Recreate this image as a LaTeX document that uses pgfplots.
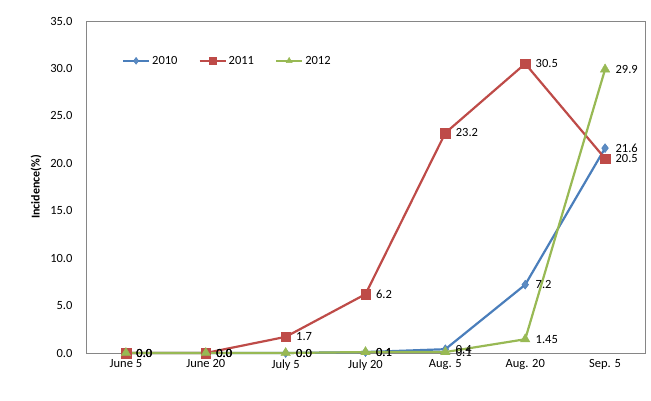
\documentclass[border=0pt]{standalone}
\usepackage{fontspec}
\setmainfont{Carlito}
\usepackage{pgfplots}
\pgfplotsset{compat=1.18}
\usepackage{pgfplotstable}

\definecolor{c2010}{HTML}{4A7EBB}
\definecolor{c2011}{HTML}{BE4B48}
\definecolor{c2012}{HTML}{98B954}
\definecolor{frame}{HTML}{868686}

% x = date index, y = incidence, lab = data label
\pgfplotstableread{
x y lab
0 0.0 0.0
1 0.0 0.0
2 0.0 0.0
3 0.1 0.1
4 0.4 0.4
5 7.2 7.2
6 21.6 21.6
}\tabA
\pgfplotstableread{
x y lab
0 0.0 0.0
1 0.0 0.0
2 1.7 1.7
3 6.2 6.2
4 23.2 23.2
5 30.5 30.5
6 20.5 20.5
}\tabB
\pgfplotstableread{
x y lab
0 0.0 0.0
1 0.0 0.0
2 0.0 0.0
3 0.1 0.1
4 0.1 0.1
5 1.45 1.45
6 29.9 29.9
}\tabC

\begin{document}
\begin{tikzpicture}
\begin{axis}[
    scale only axis,
    width=559pt, height=332pt,
    xmin=-0.5, xmax=6.5,
    ymin=0, ymax=35,
    xtick={0,...,6},
    xticklabels={June 5,June 20,July 5,July 20,Aug. 5,Aug. 20,Sep. 5},
    ytick={0,5,...,35},
    yticklabel style={/pgf/number format/fixed,/pgf/number format/precision=1,
        /pgf/number format/fixed zerofill, xshift=-10pt},
    /pgf/number format/assume math mode=true,
    major tick length=0pt,
    tick label style={font=\fontsize{12.5}{14}\selectfont},
    xticklabel style={yshift=-3pt},
    axis line style={frame},
    ylabel={\bfseries Incidence(\%)},
    ylabel style={font=\fontsize{12}{14}\selectfont, yshift=2pt},
    legend style={draw=none, fill=none, at={(0.064,0.88)}, anchor=west,
        font=\fontsize{12.5}{14}\selectfont, legend columns=3,
        inner sep=0pt,
        /tikz/every even column/.append style={column sep=19pt}},
    legend image code/.code={
        \draw[#1, mark repeat=2, mark phase=2, mark size=3.5pt] plot coordinates {(0pt,0pt) (13pt,0pt) (26pt,0pt)};},
    nodes near coords,
    point meta=explicit symbolic,
    nodes near coords style={font=\fontsize{12.5}{14}\selectfont, anchor=west, xshift=7pt, text=black},
    clip=false,
]
\addplot[c2010, line width=2.2pt, mark=diamond*, mark size=4.5pt,
    mark options={fill=c2010!90!white, line width=0.4pt}]
    table[x=x, y=y, meta=lab] {\tabA};
\addplot[c2011, line width=2.2pt, mark=square*, mark size=4.8pt,
    mark options={fill=c2011, line width=0.4pt}]
    table[x=x, y=y, meta=lab] {\tabB};
\addplot[c2012, line width=2.2pt, mark=triangle*, mark size=5.5pt,
    mark options={fill=c2012, line width=0.4pt}]
    table[x=x, y=y, meta=lab] {\tabC};
\legend{2010,2011,2012}
\end{axis}
\path (current axis.south west) ++(-86pt,-48pt) rectangle ++(651pt,401pt);
\end{tikzpicture}
\end{document}
